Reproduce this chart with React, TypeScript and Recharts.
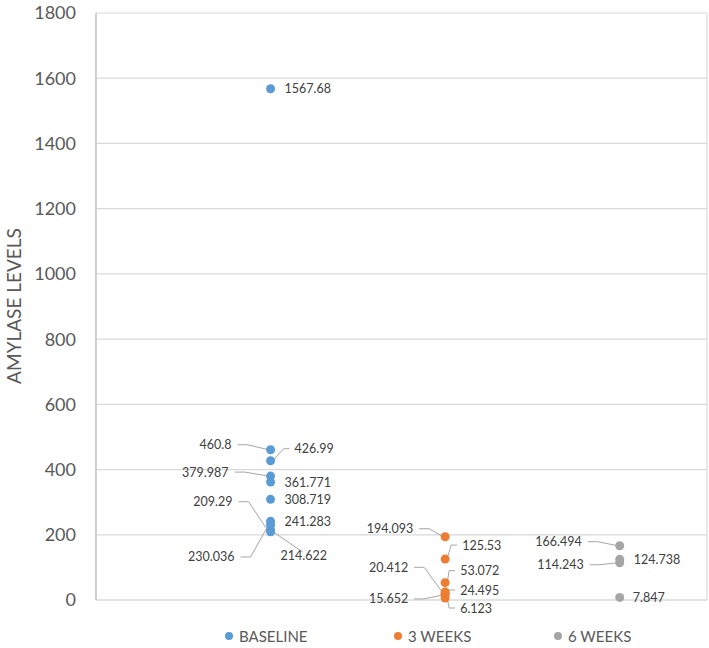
import React from 'react';
import { ScatterChart, Scatter, XAxis, YAxis, CartesianGrid, Legend, Label } from 'recharts';

// Amylase levels per time point
const baselineValues = [1567.68, 460.8, 426.99, 379.987, 361.771, 308.719, 241.283, 230.036, 214.622, 209.29];
const week3Values = [194.093, 125.53, 53.072, 24.495, 20.412, 15.652, 6.123];
const week6Values = [166.494, 124.738, 114.243, 7.847];

const seriesNames = ['BASELINE', '3 WEEKS', '6 WEEKS'];
const seriesX = [1, 2, 3];
const yTicks = [0, 200, 400, 600, 800, 1000, 1200, 1400, 1600, 1800];
const xTicks = [0, 0.5, 1, 1.5, 2, 2.5, 3, 3.5];

const COLORS = ['#5B9BD5', '#ED7D31', '#A5A5A5'];
const FONT = 'Lato, "Open Sans", sans-serif';

// where each data label sits relative to its dot (Excel-style callouts)
type LabelPos = { side: 'left' | 'right'; dx: number; dy: number; leader?: 'side' | 'top' };

const baselineLabels: LabelPos[] = [
  { side: 'right', dx: 14, dy: 0 },
  { side: 'left', dx: -39, dy: -5, leader: 'side' },
  { side: 'right', dx: 24, dy: -12, leader: 'side' },
  { side: 'left', dx: -42, dy: -4, leader: 'side' },
  { side: 'right', dx: 14, dy: 0 },
  { side: 'right', dx: 14, dy: 0 },
  { side: 'right', dx: 14, dy: 0 },
  { side: 'left', dx: -36, dy: 32, leader: 'side' },
  { side: 'right', dx: 10, dy: 25, leader: 'top' },
  { side: 'left', dx: -38, dy: -30, leader: 'side' },
];
const week3Labels: LabelPos[] = [
  { side: 'left', dx: -32, dy: -8, leader: 'side' },
  { side: 'right', dx: 17, dy: -14, leader: 'side' },
  { side: 'right', dx: 15, dy: -12, leader: 'side' },
  { side: 'right', dx: 15, dy: -2, leader: 'side' },
  { side: 'left', dx: -37, dy: -26, leader: 'side' },
  { side: 'left', dx: -37, dy: 4, leader: 'side' },
  { side: 'right', dx: 15, dy: 10, leader: 'side' },
];
const week6Labels: LabelPos[] = [
  { side: 'left', dx: -38, dy: -4, leader: 'side' },
  { side: 'right', dx: 14, dy: 0 },
  { side: 'left', dx: -36, dy: 2, leader: 'side' },
  { side: 'right', dx: 13, dy: 0 },
];

const allValues = [baselineValues, week3Values, week6Values];
const allLabels = [baselineLabels, week3Labels, week6Labels];

const seriesData = allValues.map((vals, s) =>
  vals.map((v, i) => ({ x: seriesX[s], y: v, s, i }))
);

const makeShape = (s: number) => (props: any) => {
  const { cx, cy, payload } = props;
  if (cx == null || cy == null) return <g />;
  const pos = allLabels[s][payload.i];
  const tx = cx + pos.dx;
  const ty = cy + pos.dy;
  let leader: string | null = null;
  if (pos.leader === 'side') {
    leader =
      pos.side === 'left'
        ? `${tx + 6},${ty} ${tx + 16},${ty} ${cx - 2},${cy}`
        : `${tx - 5},${ty} ${tx - 11},${ty} ${cx + 2},${cy}`;
  } else if (pos.leader === 'top') {
    leader = `${tx + 22},${ty - 3} ${cx},${cy}`;
  }
  return (
    <g>
      {leader && <polyline points={leader} fill="none" stroke="#A6A6A6" strokeWidth={1} />}
      <circle cx={cx} cy={cy} r={4.5} fill={COLORS[s]} />
      <text
        x={tx}
        y={ty}
        textAnchor={pos.side === 'left' ? 'end' : 'start'}
        dominantBaseline="central"
        fontSize={12.5}
        fontFamily={FONT}
        fill="#404040"
      >
        {payload.y}
      </text>
    </g>
  );
};

const legendLeft = [225, 394, 554];

const renderLegend = () => (
  <div style={{ position: 'relative', height: 24, width: 709, fontFamily: FONT }}>
    {seriesNames.map((name, s) => (
      <div
        key={name}
        style={{
          position: 'absolute',
          left: legendLeft[s],
          top: 0,
          height: 24,
          display: 'flex',
          alignItems: 'center',
          gap: 6,
          color: '#595959',
          fontSize: 15,
        }}
      >
        <span style={{ width: 8, height: 8, borderRadius: 4, background: COLORS[s], display: 'inline-block' }} />
        <span>{name}</span>
      </div>
    ))}
  </div>
);

const App: React.FC = () => {
  return (
    <div style={{ position: 'absolute', left: 0, top: 0, background: '#fff' }}>
      <ScatterChart width={709} height={648} margin={{ top: 13, right: 2, left: 0, bottom: 0 }}>
        <CartesianGrid stroke="#D9D9D9" strokeWidth={1.2} />
        <XAxis
          type="number"
          dataKey="x"
          domain={[0, 3.5]}
          ticks={xTicks}
          tick={false}
          tickLine={false}
          axisLine={{ stroke: '#D9D9D9', strokeWidth: 1.2 }}
          height={24}
        />
        <YAxis
          type="number"
          dataKey="y"
          domain={[0, 1800]}
          ticks={yTicks}
          width={96}
          tickLine={false}
          tickSize={8}
          tickMargin={12}
          axisLine={{ stroke: '#BFBFBF', strokeWidth: 1.2 }}
          tick={{ fill: '#595959', fontSize: 18, fontFamily: FONT }}
        >
          <Label
            content={() => (
              <text
                x={13}
                y={306}
                transform="rotate(-90 13 306)"
                textAnchor="middle"
                dominantBaseline="central"
                fontSize={19}
                fontFamily={FONT}
                fill="#595959"
              >
                AMYLASE LEVELS
              </text>
            )}
          />
        </YAxis>
        <Legend verticalAlign="bottom" content={renderLegend} wrapperStyle={{ left: 0, width: 709 }} />
        {seriesData.map((data, s) => (
          <Scatter
            key={seriesNames[s]}
            name={seriesNames[s]}
            data={data}
            fill={COLORS[s]}
            shape={makeShape(s)}
            isAnimationActive={false}
          />
        ))}
      </ScatterChart>
    </div>
  );
};

export default App;
